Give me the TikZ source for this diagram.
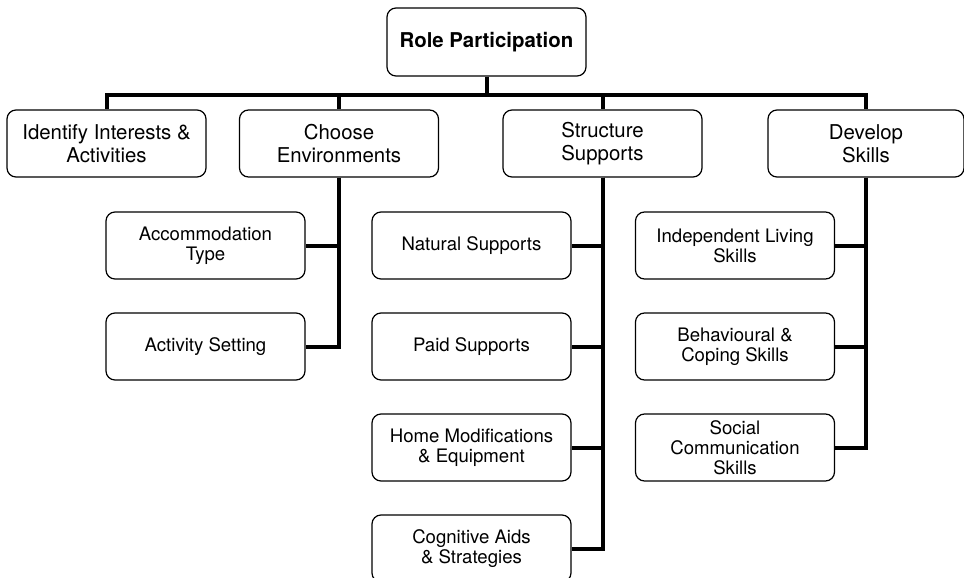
\documentclass[tikz,border=0pt]{standalone}
\usepackage{fontspec}
\setmainfont{TeX Gyre Heros}
\begin{document}
\begin{tikzpicture}[x=1pt, y=-1pt, line join=miter,
    box/.style={draw, rounded corners=9pt, line width=1.2pt, align=center,
      minimum width=199pt, minimum height=67pt, inner sep=0pt},
    head/.style={box, font=\bfseries\fontsize{20.4}{23}\selectfont},
    topbox/.style={box, font=\fontsize{20.4}{23}\selectfont},
    subbox/.style={box, font=\fontsize{18.6}{20}\selectfont},
    link/.style={line width=4pt}]
  \clip (0,0) rectangle (964,578);

  \node[head, minimum height=68pt] (role) at (486.5,42) {Role Participation};

  \node[topbox] (ident) at (106.5,143.5) {Identify Interests \&\\Activities};
  \node[topbox] (choose) at (339,143.5) {Choose\\Environments};
  \node[topbox] (struct) at (602.5,143.5) {Structure\\Supports};
  \node[topbox, minimum width=196pt] (dev) at (866,143.5) {Develop\\Skills};

  % choose environments
  \node[subbox] (accom) at (205.5,245.5) {Accommodation\\Type};
  \node[subbox] (setting) at (205.5,346.5) {Activity Setting};

  % structure supports
  \node[subbox] (natural) at (471.5,245.5) {Natural Supports};
  \node[subbox] (paid) at (471.5,346.5) {Paid Supports};
  \node[subbox] (home) at (471.5,447.5) {Home Modifications\\\& Equipment};
  \node[subbox] (cogn) at (471.5,548.5) {Cognitive Aids\\\& Strategies};

  % develop skills
  \node[subbox] (living) at (735,245.5) {Independent Living\\Skills};
  \node[subbox] (coping) at (735,346.5) {Behavioural \&\\Coping Skills};
  \node[subbox] (social) at (735,447.5) {Social\\Communication\\Skills};

  \draw[link] (role.south) -- ++(0,18) coordinate (bar);
  \draw[link] (bar) -| (ident.north);
  \draw[link] (bar) -| (choose.north);
  \draw[link] (bar) -| (struct.north);
  \draw[link] (bar) -| (dev.north);

  \draw[link] (choose.south) |- (accom.east);
  \draw[link] (choose.south) |- (setting.east);

  \draw[link] (struct.south) |- (natural.east);
  \draw[link] (struct.south) |- (paid.east);
  \draw[link] (struct.south) |- (home.east);
  \draw[link] (struct.south) |- (cogn.east);

  \draw[link] (dev.south) |- (living.east);
  \draw[link] (dev.south) |- (coping.east);
  \draw[link] (dev.south) |- (social.east);
\end{tikzpicture}
\end{document}
